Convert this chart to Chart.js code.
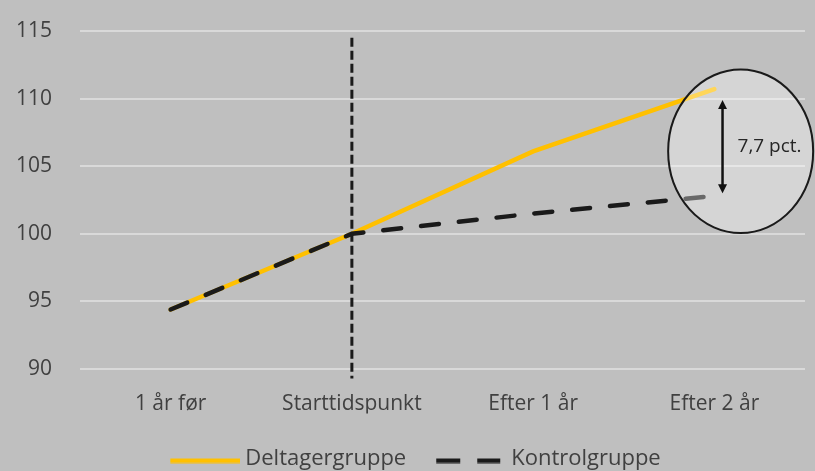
<!DOCTYPE html>
<html>
<head>
<meta charset="utf-8">
<script src="https://cdn.jsdelivr.net/npm/chart.js@4"></script>
<style>
  html, body { margin: 0; padding: 0; background: #BFBFBF; }
  #wrap { width: 815px; height: 471px; position: relative; }
  canvas { display: block; }
</style>
</head>
<body>
<div id="wrap"><canvas id="c" width="815" height="471"></canvas></div>
<script>
// ---- data ----
const categories = ['1 år før', 'Starttidspunkt', 'Efter 1 år', 'Efter 2 år'];
const deltagerLabel = 'Deltagergruppe';
const kontrolLabel = 'Kontrolgruppe';
const deltagerValues = [94.4, 100, 106.1, 110.7];
const kontrolValues = [94.4, 100, 101.5, 102.8];
const yMin = 90;
const yMax = 115;
const yStep = 5;
const gapLabel = '7,7 pct.';
const markerCategory = 'Starttidspunkt';
const markerTopValue = 114.5;
const markerBottomValue = 89.3;
const arrowTopValue = 109.9;
const arrowBottomValue = 103.0;
const circleCenterValue = 106.1;
const circleHalfHeightValue = 6.05;

const FONT = "'Open Sans', 'Noto Sans', sans-serif";
const TEXT = '#404040';

// legend swatches (small canvases used as legend point styles)
function swatch(color, dashed) {
  const c = document.createElement('canvas');
  c.width = 72; c.height = 10;
  const g = c.getContext('2d');
  g.fillStyle = color;
  if (dashed) {
    g.fillRect(2, 5, 24, 4.5);
    g.fillRect(43, 5, 23, 4.5);
  } else {
    g.fillRect(2, 5, 70, 4.5);
  }
  return c;
}

const annotations = {
  id: 'annotations',
  afterLayout(chart) {
    // let the y tick labels use the space left of the axis box (avoid clipping)
    const s = chart.scales.y;
    s.left = 0;
    s.width = s.right;
  },
  afterDatasetsDraw(chart) {
    const { ctx, scales: { x, y } } = chart;
    const last = categories.length - 1;
    const step = x.getPixelForValue(1) - x.getPixelForValue(0);
    ctx.save();
    // vertical dashed marker
    const vx = x.getPixelForValue(categories.indexOf(markerCategory));
    ctx.strokeStyle = '#1a1a1a';
    ctx.lineWidth = 3;
    ctx.setLineDash([9, 4]);
    ctx.beginPath();
    ctx.moveTo(vx, y.getPixelForValue(markerTopValue));
    ctx.lineTo(vx, y.getPixelForValue(markerBottomValue));
    ctx.stroke();
    ctx.setLineDash([]);

    // translucent ellipse
    const cx = x.getPixelForValue(last) + step * 0.145;
    const cy = y.getPixelForValue(circleCenterValue);
    const ry = y.getPixelForValue(circleCenterValue - circleHalfHeightValue) - cy;
    const rx = step * 0.40;
    ctx.beginPath();
    ctx.ellipse(cx, cy, rx, ry, 0, 0, Math.PI * 2);
    ctx.fillStyle = 'rgba(255,255,255,0.35)';
    ctx.fill();
    ctx.strokeStyle = '#1a1a1a';
    ctx.lineWidth = 2;
    ctx.stroke();

    // double arrow
    const ax = x.getPixelForValue(last) + step * 0.045;
    const ay1 = y.getPixelForValue(arrowTopValue);
    const ay2 = y.getPixelForValue(arrowBottomValue);
    const head = 9, hw = 4.5;
    ctx.strokeStyle = '#111';
    ctx.fillStyle = '#111';
    ctx.lineWidth = 2.5;
    ctx.beginPath();
    ctx.moveTo(ax, ay1 + head - 1);
    ctx.lineTo(ax, ay2 - head + 1);
    ctx.stroke();
    ctx.beginPath();
    ctx.moveTo(ax, ay1); ctx.lineTo(ax - hw, ay1 + head); ctx.lineTo(ax + hw, ay1 + head); ctx.closePath();
    ctx.fill();
    ctx.beginPath();
    ctx.moveTo(ax, ay2); ctx.lineTo(ax - hw, ay2 - head); ctx.lineTo(ax + hw, ay2 - head); ctx.closePath();
    ctx.fill();

    // label
    ctx.font = '19px ' + FONT;
    ctx.fillStyle = '#262626';
    ctx.textAlign = 'left';
    ctx.textBaseline = 'middle';
    ctx.fillText(gapLabel, ax + 15, (ay1 + ay2) / 2);
    ctx.restore();
  }
};

const datasets = [
  {
    label: deltagerLabel,
    data: deltagerValues,
    borderColor: '#FFC000',
    backgroundColor: '#FFC000',
    borderWidth: 4.5,
    borderCapStyle: 'round',
    pointRadius: 0,
    tension: 0,
    order: 2
  },
  {
    label: kontrolLabel,
    data: kontrolValues,
    borderColor: '#1a1a1a',
    backgroundColor: '#1a1a1a',
    borderWidth: 4.5,
    borderDash: [18, 20],
    borderCapStyle: 'round',
    pointRadius: 0,
    tension: 0,
    order: 1
  }
];
const swatches = [swatch('#FFC000', false), swatch('#1a1a1a', true)];

new Chart(document.getElementById('c'), {
  type: 'line',
  data: { labels: categories, datasets },
  options: {
    responsive: false,
    animation: false,
    layout: { padding: { top: 31, right: 10, bottom: -8.5, left: 30 } },
    scales: {
      x: {
        offset: true,
        grid: { display: false, drawTicks: false },
        border: { display: false },
        ticks: { color: TEXT, font: { family: FONT, size: 21 }, padding: 22, maxRotation: 0 },
        afterFit(s) { s.height = 44.5; }
      },
      y: {
        min: yMin, max: yMax,
        grid: { color: '#D9D9D9', lineWidth: 2, drawTicks: true, tickLength: 28, tickColor: 'rgba(0,0,0,0)' },
        border: { display: false },
        ticks: { stepSize: yStep, color: TEXT, font: { family: FONT, size: 21 }, padding: 0 },
        afterFit(s) { s.width = 50; }
      }
    },
    plugins: {
      legend: {
        position: 'bottom',
        labels: {
          usePointStyle: true,
          pointStyleWidth: 60,
          color: TEXT,
          font: { family: FONT, size: 22 },
          padding: 34,
          generateLabels(chart) {
            return chart.data.datasets.map((ds, i) => ({
              text: ds.label,
              datasetIndex: i,
              pointStyle: swatches[i],
              fontColor: TEXT,
              fillStyle: ds.borderColor,
              strokeStyle: ds.borderColor,
              lineWidth: 0,
              hidden: false
            }));
          }
        }
      },
      tooltip: { enabled: false }
    }
  },
  plugins: [annotations]
});
</script>
</body>
</html>
